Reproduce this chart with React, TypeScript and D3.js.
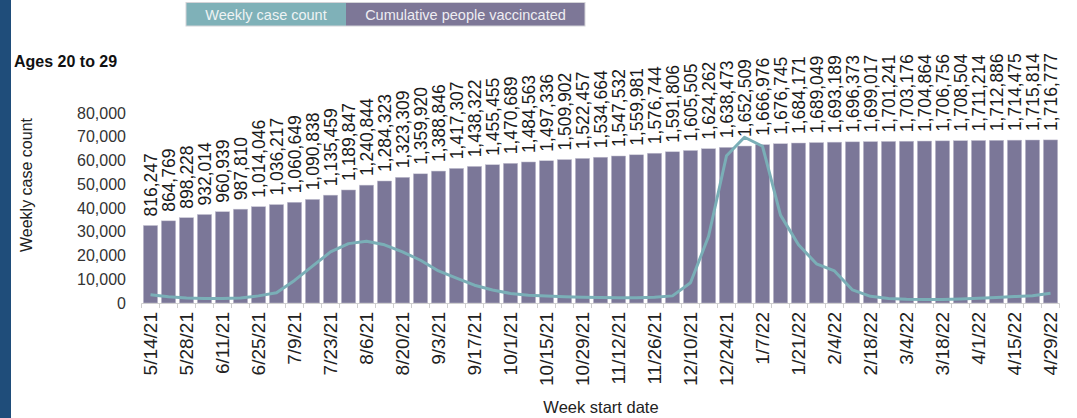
import React from "react";
import * as d3 from "d3";

const weeks: string[] = [
  "5/14/21", "5/21/21", "5/28/21", "6/4/21", "6/11/21", "6/18/21", "6/25/21", "7/2/21", "7/9/21", "7/16/21",
  "7/23/21", "7/30/21", "8/6/21", "8/13/21", "8/20/21", "8/27/21", "9/3/21", "9/10/21", "9/17/21", "9/24/21",
  "10/1/21", "10/8/21", "10/15/21", "10/22/21", "10/29/21", "11/5/21", "11/12/21", "11/19/21", "11/26/21", "12/3/21",
  "12/10/21", "12/17/21", "12/24/21", "12/31/21", "1/7/22", "1/14/22", "1/21/22", "1/28/22", "2/4/22", "2/11/22",
  "2/18/22", "2/25/22", "3/4/22", "3/11/22", "3/18/22", "3/25/22", "4/1/22", "4/8/22", "4/15/22", "4/22/22",
  "4/29/22",
];

const cumulativeVaccinated: number[] = [
  816247, 864769, 898228, 932014, 960939, 987810, 1014046, 1036217, 1060649, 1090838,
  1135459, 1189847, 1240844, 1284323, 1323309, 1359920, 1388846, 1417307, 1438322, 1455455,
  1470689, 1484563, 1497336, 1509902, 1522457, 1534664, 1547532, 1559981, 1576744, 1591806,
  1605505, 1624262, 1638473, 1652509, 1666976, 1676745, 1684171, 1689049, 1693189, 1696373,
  1699017, 1701241, 1703176, 1704864, 1706756, 1708504, 1711214, 1712886, 1714475, 1715814,
  1716777,
];

const weeklyCases: number[] = [
  3500, 2600, 2100, 1900, 1900, 2100, 3000, 4300, 9500, 15500,
  21500, 25000, 26000, 24500, 21500, 18000, 13500, 10500, 7500, 5500,
  4000, 3300, 2900, 2600, 2400, 2300, 2200, 2200, 2400, 3000,
  8500, 28000, 62000, 69800, 66000, 37000, 24500, 16500, 13500, 5500,
  2800, 1900, 1600, 1500, 1500, 1700, 2000, 2300, 2700, 3100,
  4100,
];

const yTicks: number[] = [0, 10000, 20000, 30000, 40000, 50000, 60000, 70000, 80000];
const legendItems: string[] = ["Weekly case count", "Cumulative people vaccincated"];

const W = 1077;
const H = 418;
const BAR = "#7b7798";
const TEAL = "#7aafb7";
const FONT = "'Liberation Sans', Arial, sans-serif";

export default function App() {
  const x = d3.scaleBand<string>().domain(weeks).range([141.5, 1059.5]).paddingInner(0.2).paddingOuter(0.1);
  const yCases = d3.scaleLinear().domain([0, 80000]).range([303, 113]);
  const yVacc = d3.scaleLinear().domain([0, 2000000]).range([303, 113]);
  const fmt = d3.format(",");
  const step = x.step();
  const cx = (w: string) => (x(w) as number) + x.bandwidth() / 2;

  const line = d3
    .line<number>()
    .x((_, i) => cx(weeks[i]))
    .y((d) => yCases(d));

  const [x0, x1] = x.range();

  return (
    <div style={{ position: "absolute", left: 0, top: 0 }}>
      <svg width={W} height={H} style={{ display: "block", background: "#fff" }}>
        <rect x={0} y={0} width={11} height={H} fill="#1f4d7a" />

        {/* legend */}
        <g>
          <rect x={186} y={2.5} width={160} height={23.5} fill="#7fb1b8" />
          <rect x={346} y={2.5} width={239} height={23.5} fill="#7d7797" />
          <rect x={186} y={2.5} width={399} height={23.5} fill="none" stroke="#d4d4d8" strokeWidth={1} />
          <text x={266} y={14.5} textAnchor="middle" dominantBaseline="central" fontFamily={FONT} fontSize={14.5} fill="#eef3f4">
            {legendItems[0]}
          </text>
          <text x={465.5} y={14.5} textAnchor="middle" dominantBaseline="central" fontFamily={FONT} fontSize={14.5} fill="#eeedf2">
            {legendItems[1]}
          </text>
        </g>

        <text x={14} y={67} fontFamily={FONT} fontWeight="bold" fontSize={16} fill="#111">
          Ages 20 to 29
        </text>

        {/* y axis title */}
        <text
          transform={`translate(26,${(113 + 303) / 2 - 23}) rotate(-90)`}
          textAnchor="middle"
          dominantBaseline="central"
          fontFamily={FONT}
          fontSize={16}
          fill="#222"
        >
          Weekly case count
        </text>

        {/* y ticks */}
        {yTicks.map((t) => (
          <text key={t} x={126} y={yCases(t)} textAnchor="end" dominantBaseline="central" fontFamily={FONT} fontSize={16} fill="#333">
            {fmt(t)}
          </text>
        ))}

        {/* bars */}
        {weeks.map((w, i) => (
          <rect
            key={w}
            x={x(w)}
            y={yVacc(cumulativeVaccinated[i])}
            width={x.bandwidth()}
            height={yVacc(0) - yVacc(cumulativeVaccinated[i])}
            fill={BAR}
            stroke="#c9c7d6"
            strokeWidth={0.5}
          />
        ))}

        {/* bar value labels */}
        {weeks.map((w, i) => (
          <text
            key={"l" + w}
            transform={`translate(${cx(w)},${yVacc(cumulativeVaccinated[i]) - 9}) rotate(-90)`}
            textAnchor="start"
            dominantBaseline="central"
            fontFamily={FONT}
            fontSize={17.5}
            fill="#1a1a1a"
          >
            {fmt(cumulativeVaccinated[i])}
          </text>
        ))}

        {/* x axis line and ticks */}
        <line x1={x0} x2={x1} y1={303.5} y2={303.5} stroke="#d0d0d0" strokeWidth={1} />
        {d3.range(weeks.length + 1).map((k) => {
          const xx = x0 + step * 0.1 - step * 0.1 + k * step + (x.paddingOuter() - 0.1) * step;
          const px = x0 + x.paddingOuter() * step - (step - x.bandwidth()) / 2 + k * step;
          return <line key={"t" + k} x1={px} x2={px} y1={303.5} y2={308} stroke="#d0d0d0" strokeWidth={1} data-u={xx} />;
        })}

        {/* case line */}
        <path d={line(weeklyCases) || ""} fill="none" stroke={TEAL} strokeWidth={3} strokeLinejoin="round" />

        {/* x tick labels */}
        {weeks.map((w, i) =>
          i % 2 === 0 ? (
            <text
              key={"d" + w}
              transform={`translate(${cx(w)},312) rotate(-90)`}
              textAnchor="end"
              dominantBaseline="central"
              fontFamily={FONT}
              fontSize={19}
              fill="#222"
            >
              {w}
            </text>
          ) : null
        )}

        <text x={601} y={407} textAnchor="middle" dominantBaseline="central" fontFamily={FONT} fontSize={16.5} fill="#222">
          Week start date
        </text>
      </svg>
    </div>
  );
}
